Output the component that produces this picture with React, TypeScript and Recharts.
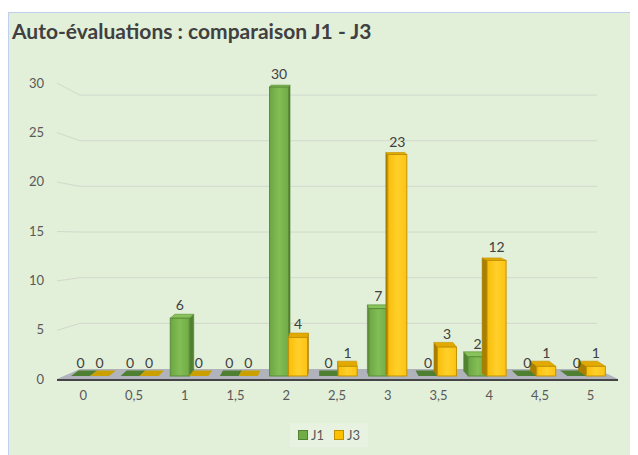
import React from 'react';
import {
  ComposedChart, Bar, Line, XAxis, YAxis, CartesianGrid, LabelList, Legend, ReferenceArea,
} from 'recharts';

const categories = ['0', '0,5', '1', '1,5', '2', '2,5', '3', '3,5', '4', '4,5', '5'];
const j1Values = [0, 0, 6, 0, 30, 0, 7, 0, 2, 0, 0];
const j3Values = [0, 0, 0, 0, 4, 1, 23, 3, 12, 1, 1];
const yTicks = [0, 5, 10, 15, 20, 25, 30];
const gridTicks = [5, 10, 15, 20, 25, 30];
const seriesNames = ['J1', 'J3'];
const titleText = 'Auto-évaluations : comparaison J1 - J3';

const data = categories.map((c, i) => ({ cat: c, J1: j1Values[i], J3: j3Values[i] }));

const FONT = 'Lato, "Open Sans", sans-serif';
const VANISH_X = 321;
const EYE_Y = 226;

const palette = {
  J1: { grad: 'url(#gJ1)', side: '#52822f', top: '#88c25a', flat: '#4e7f32', stroke: '#5a8c37', legend: '#70ad47', legendStroke: '#548235' },
  J3: { grad: 'url(#gJ3)', side: '#a87f00', top: '#e2a900', flat: '#c9a000', stroke: '#c29300', legend: '#ffc000', legendStroke: '#bf9000' },
};

function Bar3D(props: any) {
  const { x, y, width, height, colors } = props;
  if (x == null || y == null) return null;
  const cx = x + width / 2;
  const dx = (VANISH_X - cx) * 0.03;
  const dy = 2 + Math.max(0, y - EYE_Y) * 0.025;
  if (!height || height < 0.5) {
    return (
      <polygon
        points={`${x},${y} ${x + width},${y} ${x + width + dx},${y - dy} ${x + dx},${y - dy}`}
        fill={colors.flat}
      />
    );
  }
  const side = dx >= 0
    ? `${x + width},${y} ${x + width + dx},${y - dy} ${x + width + dx},${y + height - dy} ${x + width},${y + height}`
    : `${x},${y} ${x + dx},${y - dy} ${x + dx},${y + height - dy} ${x},${y + height}`;
  return (
    <g>
      <polygon points={side} fill={colors.side} stroke={colors.side} strokeWidth={0.5} />
      <polygon
        points={`${x},${y} ${x + width},${y} ${x + width + dx},${y - dy} ${x + dx},${y - dy}`}
        fill={colors.top}
        stroke={colors.stroke}
        strokeWidth={0.6}
      />
      <rect x={x} y={y} width={width} height={height} fill={colors.grad} stroke={colors.stroke} strokeWidth={1} />
    </g>
  );
}

function Floor(props: any) {
  const { x, y, width, height } = props;
  return (
    <g>
      <polygon
        points={`${x + 22},${y} ${x + width - 19},${y} ${x + width + 2},${y + height} ${x - 1},${y + height}`}
        fill="#b0b3bb"
      />
      <line x1={x - 1} y1={y + height + 1} x2={x + width + 2} y2={y + height + 1} stroke="#454545" strokeWidth={2} />
    </g>
  );
}

function gridLine(props: any) {
  const { x1, x2, y1, key, index } = props;
  const yFront = y1 + (y1 - EYE_Y) * 0.083;
  return (
    <path
      key={key ?? `g-${index}`}
      d={`M${x1 - 1},${yFront} L${x1 + 22},${y1} L${x2 - 19},${y1}`}
      fill="none"
      stroke="#d2d9cd"
      strokeWidth={1}
    />
  );
}

function LegendContent() {
  return (
    <div
      style={{
        display: 'flex', alignItems: 'center', gap: 10, padding: '4px 8px',
        background: 'rgba(255,255,255,0.22)', fontFamily: FONT, fontSize: 13, color: '#595959',
      }}
    >
      {seriesNames.map((n) => (
        <div key={n} style={{ display: 'flex', alignItems: 'center', gap: 3 }}>
          <span
            style={{
              display: 'inline-block', width: 8, height: 8,
              background: (palette as any)[n].legend, border: `1px solid ${(palette as any)[n].legendStroke}`,
            }}
          />
          <span>{n}</span>
        </div>
      ))}
    </div>
  );
}

export default function App() {
  return (
    <div
      style={{
        position: 'relative', marginTop: 4, width: 640, height: 445,
        background: '#e2efd9', border: '1px solid #bdd2ea', boxSizing: 'content-box',
      }}
    >
      <div
        style={{
          position: 'absolute', left: 3, top: 5, fontFamily: FONT, fontWeight: 700,
          fontSize: 21, lineHeight: '25px', color: '#404040', whiteSpace: 'nowrap', zIndex: 2,
        }}
      >
        {titleText}
      </div>
      <div style={{ position: 'absolute', left: 0, top: 0 }}>
        <ComposedChart
          width={629}
          height={441}
          data={data}
          margin={{ top: 67, right: 22, left: 9, bottom: 42 }}
          barGap={0}
          barSize={19}
          style={{ fontFamily: FONT }}
        >
          <defs>
            <linearGradient id="gJ1" x1="0" y1="0" x2="1" y2="0">
              <stop offset="0%" stopColor="#6ca643" />
              <stop offset="50%" stopColor="#82bd55" />
              <stop offset="100%" stopColor="#70ab46" />
            </linearGradient>
            <linearGradient id="gJ3" x1="0" y1="0" x2="1" y2="0">
              <stop offset="0%" stopColor="#f9bd0a" />
              <stop offset="50%" stopColor="#ffd02a" />
              <stop offset="100%" stopColor="#fdc313" />
            </linearGradient>
          </defs>
          <XAxis xAxisId="bar" dataKey="cat" hide height={0} padding={{ left: 7, right: 5 }} />
          <XAxis
            xAxisId="lab"
            dataKey="cat"
            axisLine={false}
            tickLine={false}
            tickMargin={3}
            height={30}
            interval={0}
            tick={{ fill: '#595959', fontSize: 13, fontFamily: FONT }}
          />
          <YAxis yAxisId="bar" type="number" domain={[-0.623, 30.737]} hide width={0} allowDataOverflow />
          <YAxis yAxisId="wall" type="number" domain={[-1.424, 31.654]} ticks={gridTicks} hide width={0} allowDataOverflow />
          <YAxis
            yAxisId="lab"
            type="number"
            domain={[-0.304, 30.294]}
            ticks={yTicks}
            axisLine={false}
            tickLine={false}
            tickMargin={8}
            width={40}
            interval={0}
            allowDataOverflow
            tick={{ fill: '#595959', fontSize: 13, fontFamily: FONT }}
          />
          <CartesianGrid
            xAxisId="lab"
            yAxisId="wall"
            vertical={false}
            horizontalValues={gridTicks}
            horizontal={gridLine as any}
          />
          <ReferenceArea
            xAxisId="lab"
            yAxisId="wall"
            y1={-1.1}
            y2={0}
            ifOverflow="visible"
            shape={<Floor />}
          />
          <Line
            dataKey="J1"
            xAxisId="lab"
            yAxisId="lab"
            stroke="none"
            dot={false}
            activeDot={false}
            legendType="none"
            isAnimationActive={false}
          />
          <Bar
            dataKey="J1"
            name="J1"
            xAxisId="bar"
            yAxisId="bar"
            fill="#70ad47"
            isAnimationActive={false}
            shape={<Bar3D colors={palette.J1} />}
          >
            <LabelList dataKey="J1" position="top" offset={8} fill="#404040" fontSize={14} fontFamily={FONT} />
          </Bar>
          <Bar
            dataKey="J3"
            name="J3"
            xAxisId="bar"
            yAxisId="bar"
            fill="#ffc000"
            isAnimationActive={false}
            shape={<Bar3D colors={palette.J3} />}
          >
            <LabelList dataKey="J3" position="top" offset={8} fill="#404040" fontSize={14} fontFamily={FONT} />
          </Bar>
          <Legend
            layout="horizontal"
            verticalAlign="middle"
            align="center"
            content={<LegendContent />}
            wrapperStyle={{ top: 410, left: 281, width: 'auto' }}
          />
        </ComposedChart>
      </div>
    </div>
  );
}
